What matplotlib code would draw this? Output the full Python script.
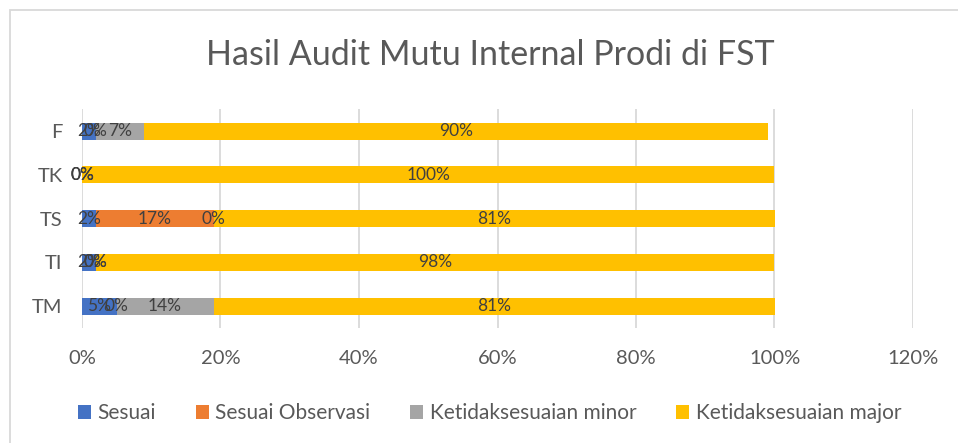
import numpy as np
import matplotlib
matplotlib.use('Agg')
import matplotlib.pyplot as plt
from matplotlib.ticker import FuncFormatter

plt.rcParams['font.family'] = ['Lato', 'DejaVu Sans']

prodi = ['TM', 'TI', 'TS', 'TK', 'F']
seri = ['Sesuai', 'Sesuai Observasi', 'Ketidaksesuaian minor', 'Ketidaksesuaian major']
sesuai = [0.05, 0.02, 0.02, 0.0, 0.02]
observasi = [0.0, 0.0, 0.17, 0.0, 0.0]
minor = [0.14, 0.0, 0.0, 0.0, 0.07]
major = [0.81, 0.98, 0.81, 1.0, 0.90]
warna = ['#4472c4', '#ed7d31', '#a5a5a5', '#ffc000']
teks = '#595959'

fig = plt.figure(figsize=(9.58, 4.43), dpi=100)
ax = fig.add_axes([82/958, 1-328/443, 831/958, 218.75/443])

y = np.arange(len(prodi))
data = [sesuai, observasi, minor, major]
kiri = np.zeros(len(prodi))
for nama, nilai, c in zip(seri, data, warna):
    nilai = np.array(nilai)
    ax.barh(y, nilai, left=kiri, height=0.39, color=c, label=nama, zorder=3)
    for i in range(len(prodi)):
        ax.text(kiri[i] + nilai[i]/2, y[i], '%d%%' % round(nilai[i]*100),
                ha='center', va='center', fontsize=12.5, color='#404040', zorder=4)
    kiri = kiri + nilai

ax.set_xlim(0, 1.2)
ax.set_ylim(-0.5, 4.5)
ax.set_xticks(np.arange(0, 1.21, 0.2))
ax.xaxis.set_major_formatter(FuncFormatter(lambda v, p: '%d%%' % round(v*100)))
ax.set_yticks(y)
ax.set_yticklabels(prodi)
ax.tick_params(length=0, labelsize=14.5, colors=teks)
ax.tick_params(axis='x', pad=16)
ax.tick_params(axis='y', pad=14)
ax.grid(axis='x', color='#d9d9d9', linewidth=1.3, zorder=0)
for s in ax.spines.values():
    s.set_visible(False)

fig.text(0.512, 1-55/443, 'Hasil Audit Mutu Internal Prodi di FST', ha='center', va='center',
         fontsize=24.5, color=teks)
fig.legend(loc='center', bbox_to_anchor=(0.511, 1-413/443), ncol=4, frameon=False,
           fontsize=15, handlelength=0.65, handleheight=0.65, handletextpad=0.3,
           columnspacing=1.9, labelcolor=teks)

# bingkai grafik
fig.add_artist(plt.Rectangle((9.5/958, -0.1), 1.2, 1.1 - 10.5/443, transform=fig.transFigure,
                             fill=False, edgecolor='#d9d9d9', linewidth=1.3))

fig.savefig('out.png', dpi=100)
